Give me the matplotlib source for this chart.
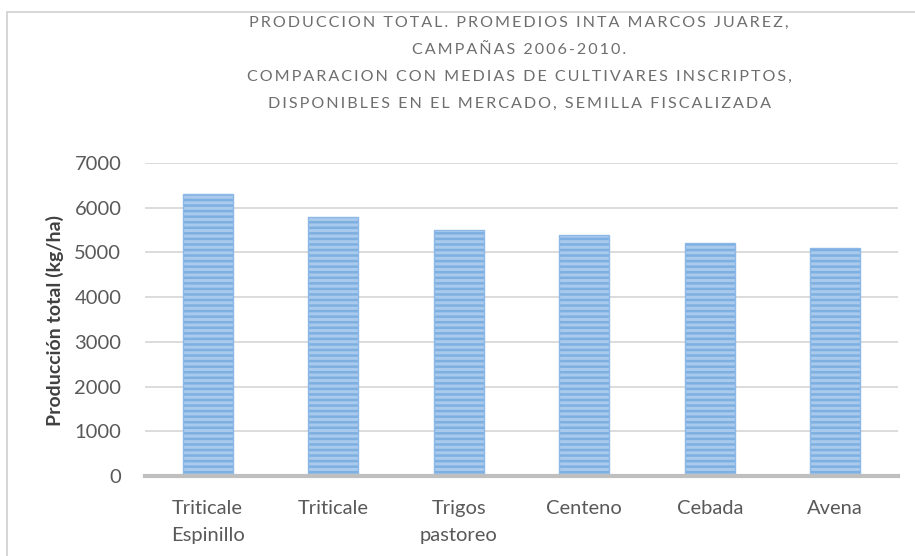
import matplotlib
matplotlib.use("Agg")
import matplotlib.pyplot as plt
from matplotlib.patches import Rectangle

categories = ["Triticale\nEspinillo", "Triticale", "Trigos\npastoreo", "Centeno", "Cebada", "Avena"]
values = [6300, 5800, 5500, 5400, 5200, 5100]
yticks = [0, 1000, 2000, 3000, 4000, 5000, 6000, 7000]
title_lines = [
    "PRODUCCION TOTAL. PROMEDIOS INTA MARCOS JUAREZ,",
    "CAMPAÑAS 2006-2010.",
    "COMPARACION CON MEDIAS DE CULTIVARES INSCRIPTOS,",
    "DISPONIBLES EN EL MERCADO, SEMILLA FISCALIZADA",
]
ylabel = "Producción total (kg/ha)"

W, H = 915, 556
plt.rcParams['font.family'] = ['Lato', 'DejaVu Sans']
plt.rcParams['hatch.linewidth'] = 2.2

fig = plt.figure(figsize=(W / 100, H / 100), dpi=100)
fig.patch.set_facecolor('white')

# outer chart border
fig.add_artist(Rectangle((7 / W, -0.05), 1.2, 1 - 12 / H + 0.05, transform=fig.transFigure,
                         fill=False, edgecolor='#d0d0d0', linewidth=1.2))

left, right = 145, 898
bottom, top = 476, 163
ax = fig.add_axes([left / W, 1 - bottom / H, (right - left) / W, (bottom - top) / H])
x = list(range(len(categories)))
ax.bar(x, values, width=0.4, color='#7eafe1', hatch='---', edgecolor='#a9caec', linewidth=0, zorder=3)
ax.bar(x, values, width=0.4, fill=False, edgecolor='#8bb8e6', linewidth=1.0, zorder=4)
ax.set_xlim(-0.5, len(categories) - 0.5)
ax.set_ylim(0, 7000)
ax.set_yticks(yticks)
ax.set_yticklabels([str(v) for v in yticks])
ax.set_xticks(x)
ax.set_xticklabels(categories, linespacing=1.75)
ax.grid(axis='y', color='#d9d9d9', linewidth=1.3, zorder=0)
ax.set_axisbelow(True)
for s in ['top', 'right', 'left']:
    ax.spines[s].set_visible(False)
ax.spines['bottom'].set_color('#bfbfbf')
ax.spines['bottom'].set_linewidth(3)
ax.spines['bottom'].set_zorder(5)
ax.tick_params(axis='both', length=0, labelsize=14.5, labelcolor='#595959')
ax.tick_params(axis='y', pad=17)
ax.tick_params(axis='x', pad=17)
ax.set_ylabel(ylabel, fontsize=14, fontweight='bold', color='#404040', va='center')
ax.yaxis.set_label_coords((55 - left) / (right - left), 1 - (320 - top) / (bottom - top))

ys = [23, 50, 77, 104]
for line, yy in zip(title_lines, ys):
    spaced = "\u2009".join(line)
    fig.text(519 / W, 1 - yy / H, spaced, ha='center', va='center', fontsize=11.6,
             color='#6e6e6e')

fig.savefig("out.png", dpi=100, facecolor='white')
